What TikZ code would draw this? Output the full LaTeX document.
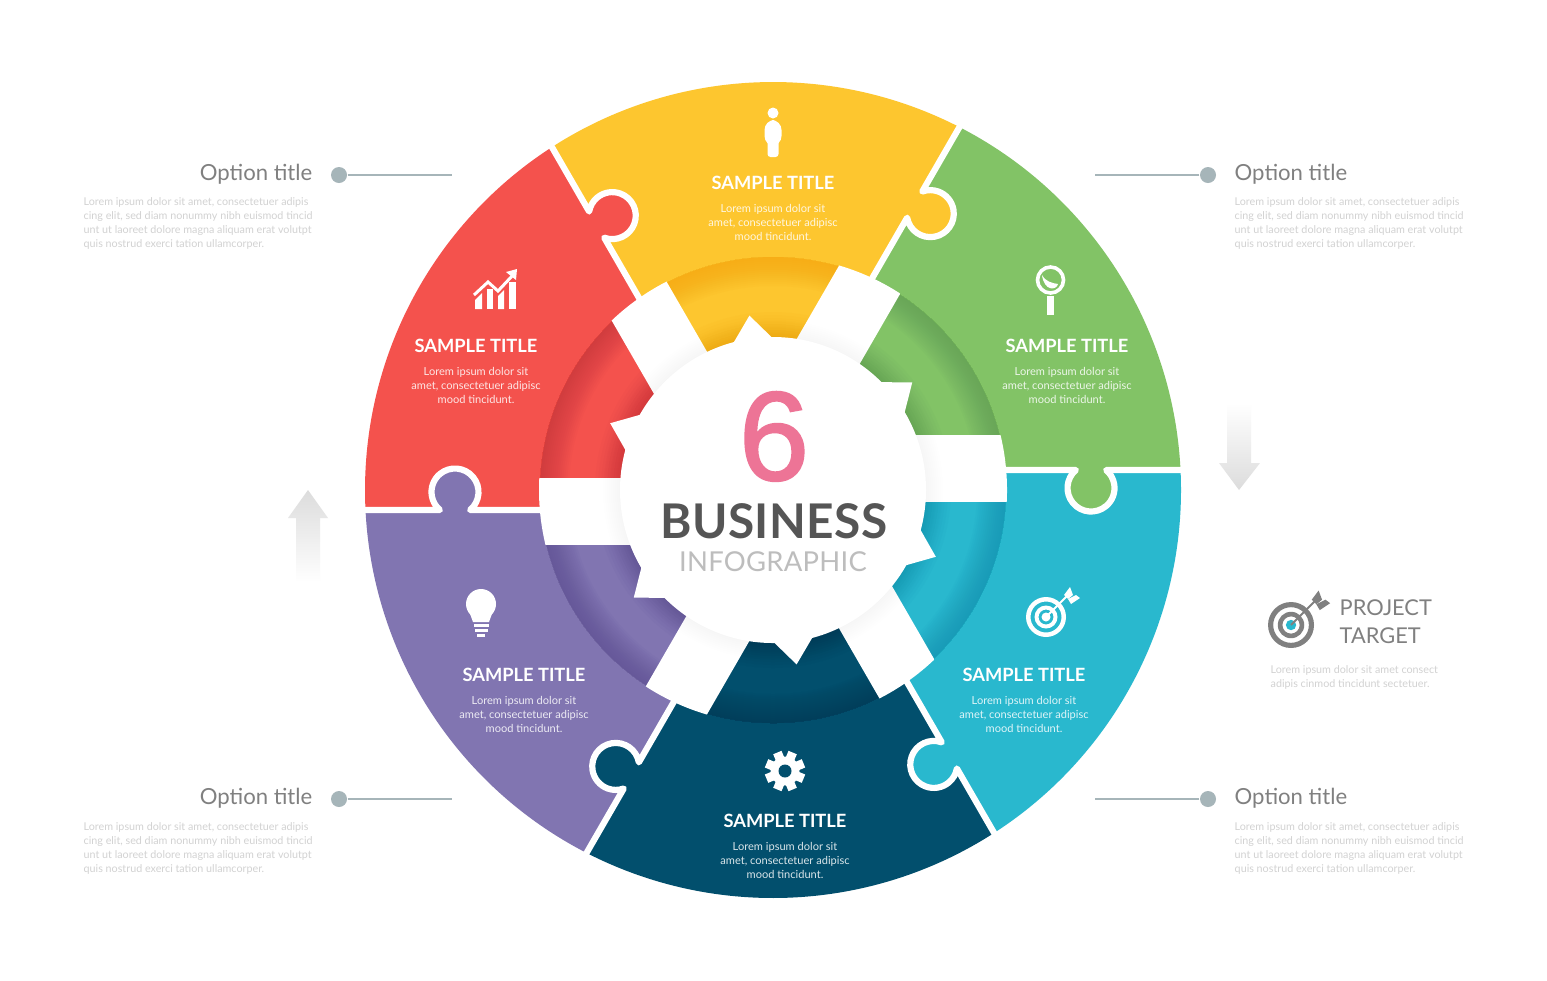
\documentclass[tikz,border=0pt]{standalone}
\usepackage{fontspec}
\setmainfont{Lato}
\newfontfamily\wideface[LetterSpace=1]{Lato}
\newfontfamily\roundface[FakeBold=1.5]{Liberation Sans}
\usetikzlibrary{positioning}

\definecolor{pGreen}{HTML}{82C366}
\definecolor{pYellow}{HTML}{FDC62F}
\definecolor{pRed}{HTML}{F4524D}
\definecolor{pPurple}{HTML}{8175B1}
\definecolor{pNavy}{HTML}{024F6D}
\definecolor{pTeal}{HTML}{29B8CE}
\definecolor{dGreen}{HTML}{5E9A58}
\definecolor{dYellow}{HTML}{F7A30C}
\definecolor{dRed}{HTML}{C2343C}
\definecolor{dPurple}{HTML}{5A4B8F}
\definecolor{dNavy}{HTML}{013A55}
\definecolor{dTeal}{HTML}{148FAE}
\definecolor{txtGray}{HTML}{808080}
\definecolor{txtLight}{HTML}{D2D2D2}
\definecolor{leadGray}{HTML}{A6B5B9}
\definecolor{arrGray}{HTML}{DCDCDC}
\definecolor{hubPink}{HTML}{ED7496}
\definecolor{hubDark}{HTML}{555555}
\definecolor{hubLight}{HTML}{BDBDBD}

\newcommand{\targetmark}[4]{%
  \begin{scope}[shift={(#1)},scale=#2]
    \fill[#3, even odd rule] (0,0) circle[radius=20] (0,0) circle[radius=15.5]
      (0,0) circle[radius=11.5] (0,0) circle[radius=7.5];
    \fill[#4] (0,0) circle[radius=4.5];
    \draw[#3, line width=.2mm] (0,0) -- (22,-22);
    \fill[#3] (18,-22) -- (24,-30) -- (27,-22) -- (22,-18) -- cycle;
    \fill[#3] (22,-18) -- (30,-22) -- (34,-19) -- (25,-13) -- cycle;
  \end{scope}}

\begin{document}
\begin{tikzpicture}[
  x=.1mm, y=-.1mm,
  gap/.style={draw=white, line width=.62mm, line join=round, line cap=round},
  stitle/.style={inner sep=0, text=white, font=\bfseries\fontsize{5.2}{7}\selectfont},
  sbody/.style={inner sep=0, text=white, text opacity=.85, align=center,
    font=\fontsize{3.15}{3.98}\selectfont},
  otitle/.style={inner sep=0, text=txtGray, font=\fontsize{6.3}{8}\selectfont},
  obody/.style={inner sep=0, text=txtLight, align=left,
    font=\fontsize{3.06}{3.98}\selectfont},
  dotmark/.style={circle, fill=leadGray, minimum size=1.6mm, inner sep=0},
  lead/.style={draw=leadGray, line width=.2mm}
]
\useasboundingbox (0,0) rectangle (1547,980);
\fill[white] (0,0) rectangle (1547,980);

% the wheel, origin at its middle
\begin{scope}[shift={(773,490)}, y=.1mm]
  \foreach \k/\pcol/\dcol in {0/pGreen/dGreen,1/pYellow/dYellow,2/pRed/dRed,
      3/pPurple/dPurple,4/pNavy/dNavy,5/pTeal/dTeal}{
    \pgfmathsetmacro{\a}{2.81+60*\k}
    \pgfmathsetmacro{\b}{\a+60}
    \pgfmathsetmacro{\c}{90+60*\k}
    \pgfmathsetmacro{\d}{\c+60}
    \fill[\pcol] (\c:20) -- (\a:408) arc[start angle=\a, end angle=\b, radius=408] -- (\d:20) -- cycle;
    \begin{scope}
      \clip (\c:20) -- (\a:408) arc[start angle=\a, end angle=\b, radius=408] -- (\d:20) -- cycle;
      % darker rim of the inner ring
      \foreach \r in {232,230,...,204}{
        \fill[\dcol, opacity=.06, even odd rule] (0,0) circle[radius=233] (0,0) circle[radius=\r];
      }
      \foreach \r in {154,157,...,178}{
        \fill[\dcol, opacity=.06] (0,0) circle[radius=\r];
      }
    \end{scope}
  }
  % puzzle tabs and the white seams
  \foreach \k/\pcol in {0/pGreen,1/pYellow,2/pRed,3/pPurple,4/pNavy,5/pTeal}{
    \begin{scope}[rotate=60*\k]
      \fill[\pcol] (302.9,20) arc[start angle=130, end angle=410, radius=23.5]
        -- (333.1,23) -- (302.9,23) -- cycle;
      \draw[gap] (0,20) -- (302.9,20) arc[start angle=130, end angle=410, radius=23.5] -- (420,20);
    \end{scope}
  }
  % white spokes
  \begin{scope}
    \clip (0,0) circle[radius=234];
    \foreach \k in {0,...,5}{
      \fill[white, rotate=60*\k] (0,-12) rectangle (240,55);
    }
  \end{scope}
  \foreach \r in {154,156,...,170}{
    \fill[black, opacity=.005] (0,0) circle[radius=\r];
  }
  % hub with its six teeth
  \fill[white] (0,0) circle[radius=153];
  \foreach \k in {0,...,5}{
    \fill[white] (37.7+60*\k-7.5:152) -- (37.7+60*\k:176) -- (37.7+60*\k+7.5:152) -- cycle;
  }
\end{scope}

% hub text
\node[inner sep=0, anchor=base, text=hubPink, font=\roundface\fontsize{36}{36}\selectfont] (hubSix) at (774,480) {\smash{6}};
\node[inner sep=0, text=hubDark, font=\wideface\bfseries\fontsize{13.6}{16}\selectfont] (hubBiz) at (774,521) {BUSINESS};
\node[inner sep=0, text=hubLight, font=\wideface\fontsize{7.8}{10}\selectfont] (hubInfo) at (773,562) {INFOGRAPHIC};

% slice titles
\node[stitle] (tYellow) at (773,183) {SAMPLE TITLE};
\node[sbody, below=1.3mm of tYellow] (bYellow) {Lorem ipsum dolor sit\\amet, consectetuer adipisc\\mood tincidunt.};
\node[stitle] (tGreen) at (1067,346) {SAMPLE TITLE};
\node[sbody, below=1.3mm of tGreen] (bGreen) {Lorem ipsum dolor sit\\amet, consectetuer adipisc\\mood tincidunt.};
\node[stitle] (tTeal) at (1024,675) {SAMPLE TITLE};
\node[sbody, below=1.3mm of tTeal] (bTeal) {Lorem ipsum dolor sit\\amet, consectetuer adipisc\\mood tincidunt.};
\node[stitle] (tNavy) at (785,821) {SAMPLE TITLE};
\node[sbody, below=1.3mm of tNavy] (bNavy) {Lorem ipsum dolor sit\\amet, consectetuer adipisc\\mood tincidunt.};
\node[stitle] (tPurple) at (524,675) {SAMPLE TITLE};
\node[sbody, below=1.3mm of tPurple] (bPurple) {Lorem ipsum dolor sit\\amet, consectetuer adipisc\\mood tincidunt.};
\node[stitle] (tRed) at (476,346) {SAMPLE TITLE};
\node[sbody, below=1.3mm of tRed] (bRed) {Lorem ipsum dolor sit\\amet, consectetuer adipisc\\mood tincidunt.};

% icons
\fill[white] (773,113) circle[radius=5.5];
\fill[white, rounded corners=1mm] (764.5,120) rectangle (781.5,146);
\fill[white, rounded corners=.3mm] (767.5,135) rectangle (778.5,157);

\draw[white, line width=.36mm] (1050.5,280) circle[radius=13];
\fill[white] (1047,296) rectangle (1054,315);
\fill[white] (1042,275) .. controls (1046,282) and (1052,283) .. (1058,284)
  .. controls (1056,291) and (1044,291) .. cycle;

\draw[white, line width=.3mm] (474,295) -- (488,282) -- (498,291) -- (513,275);
\fill[white] (506,272) -- (517,269) -- (516,280) -- cycle;
\fill[white] (475,300) -- (482,293) -- (482,309) -- (475,309) -- cycle;
\fill[white] (487,289) -- (493,289) -- (493,309) -- (487,309) -- cycle;
\fill[white] (498,296) -- (504,290) -- (504,309) -- (498,309) -- cycle;
\fill[white] (509,282) -- (516,282) -- (516,309) -- (509,309) -- cycle;

\fill[white] (481,604) circle[radius=15];
\fill[white] (469,611) -- (493,611) -- (489,622) -- (473,622) -- cycle;
\fill[white] (473.5,624) rectangle (488.5,627);
\fill[white] (474.5,629) rectangle (487.5,632);
\fill[white] (477,634) rectangle (485,637);

\fill[white] (785,771) circle[radius=14.5];
\foreach \k in {0,...,7}{
  \fill[white, shift={(785,771)}, rotate=22.5+45*\k] (10,-4.5) rectangle (20,4.5);
}
\fill[pNavy] (785,771) circle[radius=6.5];

\targetmark{1046,617}{1}{white}{white}
\targetmark{1291,625}{1.15}{txtGray}{pTeal}

% fading arrows
\shade[top color=white, bottom color=arrGray] (1227,403) -- (1251,403) -- (1251,463)
  -- (1260,463) -- (1239,490) -- (1219,463) -- (1227,463) -- cycle;
\shade[bottom color=white, top color=arrGray] (296,582) -- (320,582) -- (320,518)
  -- (328,518) -- (308,490) -- (288,518) -- (296,518) -- cycle;

% side notes
\node[otitle, anchor=east] (optA) at (313,174) {Option title};
\node[obody, anchor=west] (noteA) at (83,223) {Lorem ipsum dolor sit amet, consectetuer adipis\\cing elit, sed diam nonummy nibh euismod tincid\\unt ut laoreet dolore magna aliquam erat volutpt\\quis nostrud exerci tation ullamcorper.};
\node[otitle, anchor=west] (optB) at (1234,174) {Option title};
\node[obody, anchor=west] (noteB) at (1234,223) {Lorem ipsum dolor sit amet, consectetuer adipis\\cing elit, sed diam nonummy nibh euismod tincid\\unt ut laoreet dolore magna aliquam erat volutpt\\quis nostrud exerci tation ullamcorper.};
\node[otitle, anchor=east] (optC) at (313,798) {Option title};
\node[obody, anchor=west] (noteC) at (83,848) {Lorem ipsum dolor sit amet, consectetuer adipis\\cing elit, sed diam nonummy nibh euismod tincid\\unt ut laoreet dolore magna aliquam erat volutpt\\quis nostrud exerci tation ullamcorper.};
\node[otitle, anchor=west] (optD) at (1234,798) {Option title};
\node[obody, anchor=west] (noteD) at (1234,848) {Lorem ipsum dolor sit amet, consectetuer adipis\\cing elit, sed diam nonummy nibh euismod tincid\\unt ut laoreet dolore magna aliquam erat volutpt\\quis nostrud exerci tation ullamcorper.};

\node[dotmark] (dotA) at (339,175) {};
\node[dotmark] (dotB) at (1208,175) {};
\node[dotmark] (dotC) at (339,799) {};
\node[dotmark] (dotD) at (1208,799) {};
\coordinate (endA) at (452,175);
\coordinate (endB) at (1095,175);
\coordinate (endC) at (452,799);
\coordinate (endD) at (1095,799);
\draw[lead] (dotA) -- (endA);
\draw[lead] (dotB) -- (endB);
\draw[lead] (dotC) -- (endC);
\draw[lead] (dotD) -- (endD);

% project target
\node[otitle, anchor=west, align=left, font=\fontsize{6.2}{8}\selectfont] (target) at (1339,622) {PROJECT\\TARGET};
\node[obody, anchor=west] (targetNote) at (1270,677) {Lorem ipsum dolor sit amet consect\\adipis cinmod tincidunt sectetuer.};

\end{tikzpicture}
\end{document}
